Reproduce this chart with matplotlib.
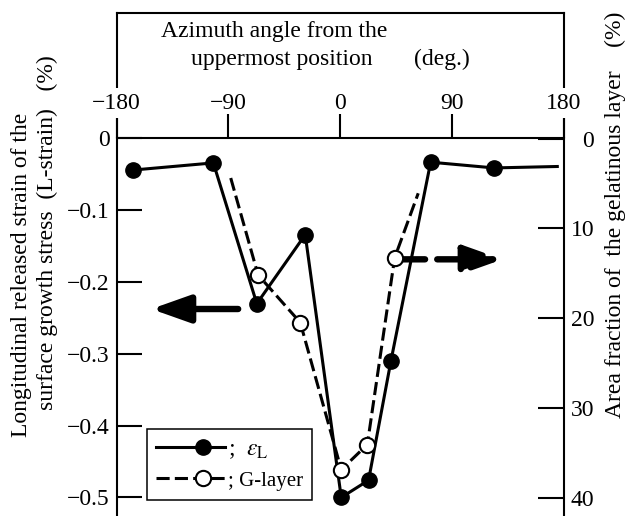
import matplotlib
matplotlib.use("Agg")
import matplotlib.pyplot as plt
from matplotlib.legend_handler import HandlerLine2DCompound

# ---------------- data ----------------
angle_eps = [-167, -102, -67, -28, 1, 23, 41, 73, 124, 175]
strain_eps = [-0.044, -0.034, -0.230, -0.134, -0.500, -0.476, -0.310, -0.033, -0.041, -0.039]

angle_g = [-88, -66, -32, 1, 22, 44, 63]
area_g = [4.4, 15.2, 20.5, 36.9, 34.1, 13.3, 6.1]

x_ticks = [-180, -90, 0, 90, 180]
x_ticklabels = ["\u2212180", "\u221290", "0", "90", "180"]
y_ticks = [0, -0.1, -0.2, -0.3, -0.4, -0.5]
y_ticklabels = ["0", "\u22120.1", "\u22120.2", "\u22120.3", "\u22120.4", "\u22120.5"]
y2_ticks = [0, 10, 20, 30, 40]
y2_ticklabels = ["0", "10", "20", "30", "40"]

plt.rcParams["font.family"] = ["Liberation Serif", "DejaVu Serif"]
plt.rcParams["mathtext.fontset"] = "stix"

W, H = 629, 516
fig = plt.figure(figsize=(W / 100, H / 100), dpi=100)

left_px, right_px, top_px = 116.5, 563.5, 12.7
ax = fig.add_axes([left_px / W, 0, (right_px - left_px) / W, (H - top_px) / H])
ax.set_xlim(-180, 180)
ax.set_ylim(-0.5258, 0.1752)

ax2 = ax.twinx()
ax2.set_ylim(42.06, -14.02)

FS = 17
# spines
for s in ["top", "left", "right"]:
    ax.spines[s].set_linewidth(1.5)
ax.spines["bottom"].set_position(("data", 0))
ax.spines["bottom"].set_linewidth(1.5)
for s in ax2.spines.values():
    s.set_visible(False)

# x axis (on the zero line, labels above)
ax.set_xticks(x_ticks)
ax.set_xticklabels(x_ticklabels)
ax.tick_params(axis="x", direction="in", length=17.5, width=1.5, pad=-33,
               labelsize=FS)
ax.xaxis.set_zorder(3)
for lab in ax.get_xticklabels():
    if lab.get_text() in ("\u2212180", "180"):
        lab.set_bbox(dict(facecolor="white", edgecolor="none", pad=3))

ax.set_yticks(y_ticks)
ax.set_yticklabels(y_ticklabels)
ax.tick_params(axis="y", direction="in", length=18, width=1.5, pad=5,
               labelsize=FS)

ax2.set_yticks(y2_ticks)
ax2.set_yticklabels(y2_ticklabels)
ax2.tick_params(axis="y", direction="in", length=19, width=1.5, pad=22,
                labelsize=FS)
for lab in ax2.get_yticklabels():
    lab.set_horizontalalignment("right")

# data
l1, = ax.plot(angle_eps, strain_eps, color="black", lw=2.2, marker="o",
              ms=11, mfc="black", mec="black", markevery=slice(0, -1),
              zorder=4)
l2, = ax2.plot(angle_g, area_g, color="black", lw=2.2, dashes=(4.3, 1.7),
               marker="o", ms=11, mfc="white", mec="black", mew=1.5,
               markevery=slice(1, -1), zorder=4)

# arrows
ax.annotate("", xy=(-152, -0.2375), xytext=(-82, -0.2375),
            arrowprops=dict(arrowstyle="-|>,head_length=1.55,head_width=0.55",
                            mutation_scale=15, lw=4.6, color="black",
                            shrinkA=0, shrinkB=0))
ax2.annotate("", xy=(131, 13.46), xytext=(50, 13.46),
             arrowprops=dict(arrowstyle="-|>,head_length=1.55,head_width=0.55",
                             mutation_scale=15, lw=4.6, color="black",
                             linestyle=(0, (3.6, 1.9)), shrinkA=0, shrinkB=0))

# axis titles
fig.text(161 / W, 1 - 37 / H, "Azimuth angle from the", fontsize=FS,
         ha="left", va="baseline")
fig.text(191 / W, 1 - 65 / H, "uppermost position", fontsize=FS,
         ha="left", va="baseline")
fig.text(414 / W, 1 - 65 / H, "(deg.)", fontsize=FS, ha="left",
         va="baseline")

fig.text(22 / W, 1 - 437 / H, "Longitudinal released strain of the",
         fontsize=FS, rotation=90, rotation_mode="anchor", ha="left",
         va="center")
fig.text(47 / W, 1 - 410 / H, "surface growth stress  (L-strain)   (%)",
         fontsize=FS, rotation=90, rotation_mode="anchor", ha="left",
         va="center")
fig.text(615 / W, 1 - 418 / H, "Area fraction of  the gelatinous layer    (%)",
         fontsize=FS, rotation=90, rotation_mode="anchor", ha="left",
         va="center")


class HandlerMarkRight(HandlerLine2DCompound):
    def get_xdata(self, legend, xdescent, ydescent, width, height, fontsize):
        xdata, _ = super().get_xdata(legend, xdescent, ydescent, width,
                                     height, fontsize)
        return xdata, [-xdescent + 0.68 * width]


leg = ax2.legend([l1, l2], [";  $\\varepsilon_{\\mathrm{L}}$", "; G-layer"],
                 loc="upper left",
                 bbox_to_anchor=(146.7 / W, 1 - 429.3 / H),
                 bbox_transform=fig.transFigure, borderaxespad=0,
                 fontsize=15, handlelength=3.3, handletextpad=0.15,
                 borderpad=0.45, labelspacing=0.5, fancybox=False,
                 framealpha=1, edgecolor="black",
                 handler_map={l1: HandlerMarkRight(),
                              l2: HandlerMarkRight()})
leg.get_frame().set_linewidth(1.1)
leg.get_texts()[0].set_fontsize(17)

fig.savefig("out.png", dpi=100, facecolor="white")
